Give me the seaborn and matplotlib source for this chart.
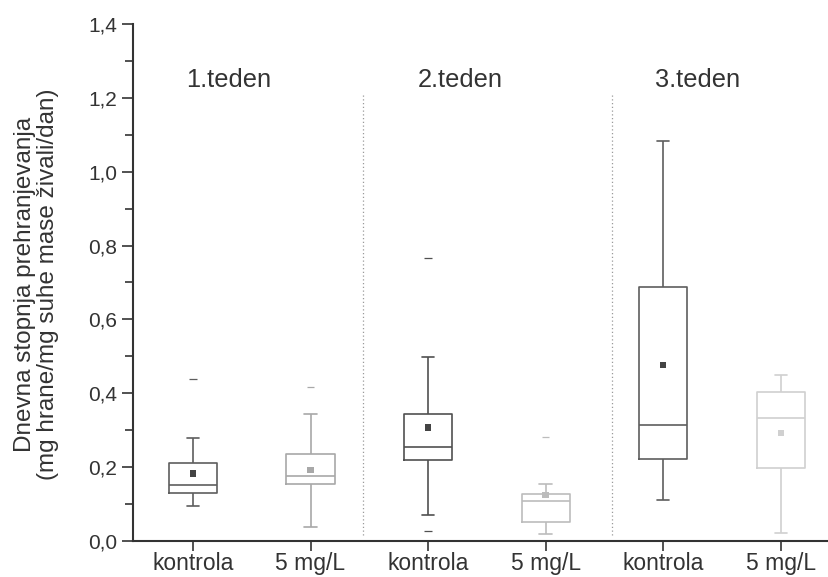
import matplotlib
matplotlib.use("Agg")
import matplotlib.pyplot as plt
import matplotlib.ticker as mticker
import seaborn as sns
import pandas as pd

# ---- data ----
categories = ["k1", "m1", "k2", "m2", "k3", "m3"]
tick_labels = ["kontrola", "5 mg/L", "kontrola", "5 mg/L", "kontrola", "5 mg/L"]
week_labels = ["1.teden", "2.teden", "3.teden"]
whisker_low = [0.096, 0.039, 0.070, 0.018, 0.111, 0.021]
q1 = [0.129, 0.153, 0.219, 0.052, 0.222, 0.197]
median = [0.152, 0.177, 0.255, 0.108, 0.313, 0.334]
q3 = [0.210, 0.236, 0.344, 0.127, 0.688, 0.404]
whisker_high = [0.279, 0.343, 0.499, 0.153, 1.084, 0.450]
means = [0.183, 0.192, 0.307, 0.125, 0.477, 0.292]
extreme_cat = ["k1", "m1", "k2", "k2", "m2"]
extreme_val = [0.438, 0.416, 0.765, 0.028, 0.281]

colors = ["#5e5e5e", "#a8a8a8", "#505050", "#bcbcbc", "#5e5e5e", "#d0d0d0"]
palette = dict(zip(categories, colors))

rows = []
for c, a, b, m, d, e in zip(categories, whisker_low, q1, median, q3, whisker_high):
    for v in (a, b, m, d, e):
        rows.append({"cat": c, "val": v})
df = pd.DataFrame(rows)
df_mean = pd.DataFrame({"cat": categories, "val": means})
df_ext = pd.DataFrame({"cat": extreme_cat, "val": extreme_val})

sns.set_theme(style="ticks")
plt.rcParams["font.family"] = ["Liberation Sans", "DejaVu Sans"]
text_color = "#333333"

fig = plt.figure(figsize=(8.29, 5.77), dpi=100)
ax = fig.add_axes([0.1604, 0.0624, 0.8396, 0.896])

sns.boxplot(data=df, x="cat", y="val", hue="cat", order=categories,
            hue_order=categories, palette=palette, fill=False, width=0.41,
            whis=(0, 100), linewidth=1.2, legend=False, ax=ax,
            capwidths=0.105)

mean_pal = {c: ("#444444" if c.startswith("k") else col) for c, col in palette.items()}
sns.scatterplot(data=df_mean, x="cat", y="val", hue="cat", palette=mean_pal,
                marker="s", s=22, linewidth=0, legend=False, ax=ax)
sns.scatterplot(data=df_ext, x="cat", y="val", hue="cat", palette=palette,
                marker="_", s=30, linewidth=0.9, legend=False, ax=ax)

# week dividers
for xd in (1.445, 3.563):
    ax.plot([xd, xd], [0.015, 1.21], linestyle=(0, (1, 2)), color="#9a9a9a", lw=0.9)

for xw, lab in zip([0.30, 2.27, 4.29], week_labels):
    ax.text(xw, 1.248, lab, ha="center", va="center", fontsize=18.3, color=text_color)

ax.set_xlim(-0.51, 5.41)
ax.set_ylim(0, 1.4)
ax.set_xticks(range(len(categories)))
ax.set_xticklabels(tick_labels, fontsize=16.5, color=text_color)
ax.yaxis.set_major_locator(mticker.MultipleLocator(0.2))
ax.yaxis.set_minor_locator(mticker.MultipleLocator(0.1))
ax.yaxis.set_major_formatter(mticker.FuncFormatter(lambda v, p: f"{v:.1f}".replace(".", ",")))
ax.tick_params(axis="y", labelsize=15, colors=text_color, length=8, width=1.2, pad=3.5)
ax.tick_params(axis="y", which="minor", length=6, width=1.2, color=text_color)
ax.tick_params(axis="x", length=7, width=1.2, colors=text_color, pad=1)
ax.set_xlabel("")
ax.set_ylabel("Dnevna stopnja prehranjevanja\n(mg hrane/mg suhe mase živali/dan)",
              fontsize=17.5, color=text_color, linespacing=1.05)
ax.yaxis.set_label_coords(-0.106, 0.497)
sns.despine(ax=ax, top=True, right=True)
for s in ("left", "bottom"):
    ax.spines[s].set_linewidth(1.5)
    ax.spines[s].set_color(text_color)

fig.savefig("out.png", dpi=100)
